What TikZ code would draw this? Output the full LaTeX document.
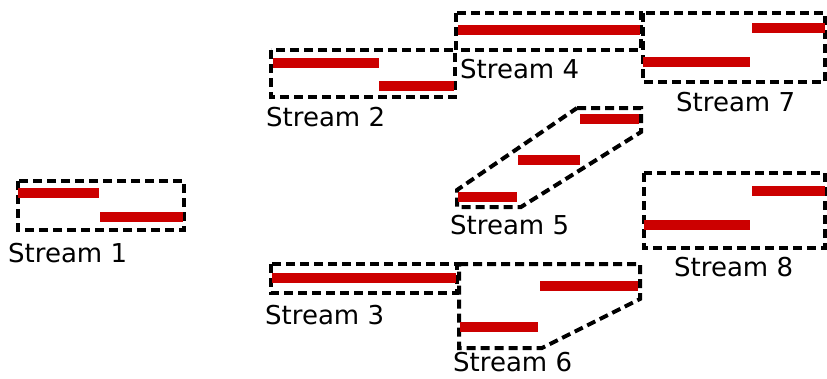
\documentclass[tikz,border=0pt]{standalone}
\usepackage{fontspec}
\setmainfont{DejaVu Sans}
\definecolor{pktred}{HTML}{CC0000}
\tikzset{
  streambox/.style={draw=black,line width=4pt,dash pattern=on 9pt off 5pt,line join=miter},
  pkt/.style={draw=pktred,line width=10pt},
  lbl/.style={anchor=base west,inner sep=0pt,text depth=0pt,font=\fontsize{26}{30}\selectfont}
}
\begin{document}
\begin{tikzpicture}[x=1pt,y=-1pt]
\useasboundingbox (0,0) rectangle (827,378);
% stream 1
\draw[streambox] (18,181) rectangle (184,230);
\draw[pkt] (18,193) -- (99,193);
\draw[pkt] (100,217) -- (183,217);
\node[lbl] (s1) at (8,262) {Stream 1};
% stream 2
\draw[streambox] (271,50) rectangle (455,97);
\draw[pkt] (273,63) -- (379,63);
\draw[pkt] (379,86) -- (454,86);
\node[lbl] (s2) at (266,126) {Stream 2};
% stream 3
\draw[streambox] (271,264) rectangle (457,293);
\draw[pkt] (272,278) -- (456,278);
\node[lbl] (s3) at (265,324) {Stream 3};
% stream 4
\draw[streambox] (456,13) rectangle (641,50);
\draw[pkt] (458,30) -- (640,30);
\node[lbl] (s4) at (460,78) {Stream 4};
% stream 5
\draw[streambox] (577,108) -- (641,108) -- (641,132) -- (521,207)
  -- (457,207) -- (457,190) -- cycle;
\draw[pkt] (580,119) -- (639,119);
\draw[pkt] (518,160) -- (580,160);
\draw[pkt] (458,197) -- (517,197);
\node[lbl] (s5) at (450,234) {Stream 5};
% stream 6
\draw[streambox] (459,264) -- (640,264) -- (640,299) -- (542,348)
  -- (459,348) -- cycle;
\draw[pkt] (540,286) -- (638,286);
\draw[pkt] (460,327) -- (538,327);
\node[lbl] (s6) at (453,371) {Stream 6};
% stream 7
\draw[streambox] (643,13) rectangle (825,82);
\draw[pkt] (752,28) -- (825,28);
\draw[pkt] (643,62) -- (750,62);
\node[lbl] (s7) at (676,111) {Stream 7};
% stream 8
\draw[streambox] (644,173) rectangle (825,248);
\draw[pkt] (752,191) -- (825,191);
\draw[pkt] (644,225) -- (750,225);
\node[lbl] (s8) at (674,276) {Stream 8};
\end{tikzpicture}
\end{document}
